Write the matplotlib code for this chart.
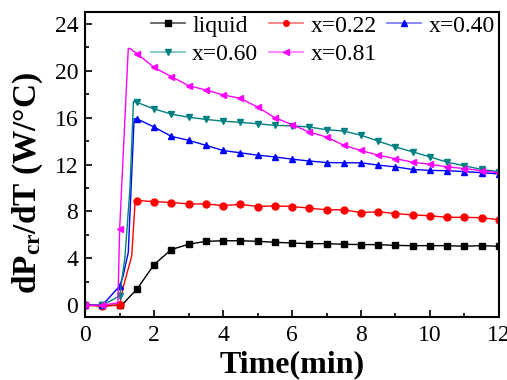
import numpy as np
import matplotlib
matplotlib.use("Agg")
import matplotlib.pyplot as plt
from matplotlib.ticker import MultipleLocator
from matplotlib.lines import Line2D
from matplotlib.colors import to_rgb

# ---- data ----
t_grid = [0, 0.5, 1.0, 1.5, 2.0, 2.5, 3.0, 3.5, 4.0, 4.5, 5.0, 5.5, 6.0,
          6.5, 7.0, 7.5, 8.0, 8.5, 9.0, 9.5, 10.0, 10.5, 11.0, 11.5, 12.0]

liquid = [0, 0, 0, 1.36, 3.47, 4.75, 5.2, 5.45, 5.5, 5.5, 5.45, 5.37, 5.3,
          5.25, 5.25, 5.2, 5.17, 5.17, 5.1, 5.08, 5.08, 5.08, 5.03, 5.08, 5.03]
x022 = [0, -0.1, 0, 8.93, 8.84, 8.76, 8.64, 8.64, 8.5, 8.6, 8.42, 8.47, 8.42,
        8.28, 8.14, 8.14, 7.9, 7.97, 7.82, 7.7, 7.63, 7.5, 7.5, 7.46, 7.3]
x040 = [0, 0, 1.64, 15.9, 15.2, 14.4, 14.07, 13.64, 13.2, 13.0, 12.8, 12.65,
        12.46, 12.3, 12.17, 12.15, 12.15, 11.95, 11.8, 11.58, 11.5, 11.47,
        11.4, 11.3, 11.2]
x060 = [0, 0, 0.8, 17.3, 16.75, 16.3, 16.04, 15.85, 15.7, 15.6, 15.48, 15.34,
        15.3, 15.2, 14.97, 14.86, 14.5, 14.0, 13.5, 13.08, 12.65, 12.2, 11.9,
        11.58, 11.4]
x081 = [0, 0, 6.5, 21.47, 20.28, 19.5, 18.73, 18.36, 17.94, 17.65, 16.9, 16.0,
        15.4, 14.77, 14.35, 13.64, 13.2, 12.8, 12.5, 12.2, 12.03, 11.8, 11.66,
        11.47, 11.3]

# extra unmarked points on the steep rise (t, y)
liquid_rise = [(1.1, 0.1), (1.25, 0.6)]
x022_rise = [(1.1, 1.5), (1.35, 4.2), (1.45, 8.9)]
x040_rise = [(1.1, 2.5), (1.25, 4.5), (1.42, 15.9)]
x060_rise = [(1.15, 4.0), (1.3, 10.0), (1.4, 17.4)]
x081_rise = [(0.95, 0.2), (1.25, 21.9), (1.3, 21.9)]

labels = ["liquid", "x=0.22", "x=0.40", "x=0.60", "x=0.81"]
colors = ["black", "red", "blue", "#008080", "magenta"]
markers = ["s", "o", "^", "v", "<"]

plt.rcParams["font.family"] = "Liberation Serif"
plt.rcParams["mathtext.fontset"] = "custom"
plt.rcParams["mathtext.rm"] = "Liberation Serif:bold"
plt.rcParams["mathtext.bf"] = "Liberation Serif:bold"
plt.rcParams["mathtext.it"] = "Liberation Serif:bold:italic"

fig = plt.figure(figsize=(5.07, 3.80), dpi=100)
ax = fig.add_axes([0.168, 0.166, 0.816, 0.802])

handles = []
series = [(liquid, liquid_rise), (x022, x022_rise), (x040, x040_rise),
          (x060, x060_rise), (x081, x081_rise)]
for (vals, rise), lab, c, m in zip(series, labels, colors, markers):
    pts = sorted(list(zip(t_grid, vals)) + rise)
    tt = [p[0] for p in pts]
    yy = [p[1] for p in pts]
    mark_idx = [i for i, t in enumerate(tt) if t in t_grid]
    ax.plot(tt, yy, color=c, lw=1.0, marker=m, ms=5,
            markevery=mark_idx)
    # legend proxy: paler line, full-colour small marker
    pale = tuple(0.45 * np.array(to_rgb(c)) + 0.55 * np.array([0.6, 0.6, 0.6])) \
        if c == "black" else tuple(0.55 * np.array(to_rgb(c)) + 0.45)
    handles.append(Line2D([], [], color=pale, lw=1.2, marker=m, ms=4,
                          markerfacecolor=c, markeredgecolor=c))

ax.set_xlim(0, 12)
ax.set_ylim(-1, 25)
ax.xaxis.set_major_locator(MultipleLocator(2))
ax.xaxis.set_minor_locator(MultipleLocator(1))
ax.yaxis.set_major_locator(MultipleLocator(4))
ax.yaxis.set_minor_locator(MultipleLocator(2))
ax.tick_params(which="both", direction="in", top=False, right=False,
               labelsize=17, width=1.2)
ax.tick_params(which="major", length=5)
ax.tick_params(which="minor", length=3)
ax.tick_params(axis="x", pad=6)
ax.tick_params(axis="y", pad=5)
for s in ax.spines.values():
    s.set_linewidth(1.5)

ax.set_xlabel("Time(min)", fontsize=23, fontweight="bold", labelpad=3)
ax.set_ylabel(r"dP$_{\mathrm{cr}}$/dT (W/°C)", fontsize=24,
              fontweight="bold")
ax.yaxis.set_label_coords(-0.098, 0.44)

# reorder so the legend fills row by row
order = [0, 3, 1, 4, 2]
ax.legend([handles[i] for i in order], [labels[i] for i in order],
          ncol=3, frameon=False, fontsize=17, loc="upper left",
          bbox_to_anchor=(0.159, 0.99), borderpad=0, borderaxespad=0,
          handlelength=1.45, handletextpad=0.3,
          columnspacing=0.45, labelspacing=0.3)

fig.savefig("out.png", dpi=100)
